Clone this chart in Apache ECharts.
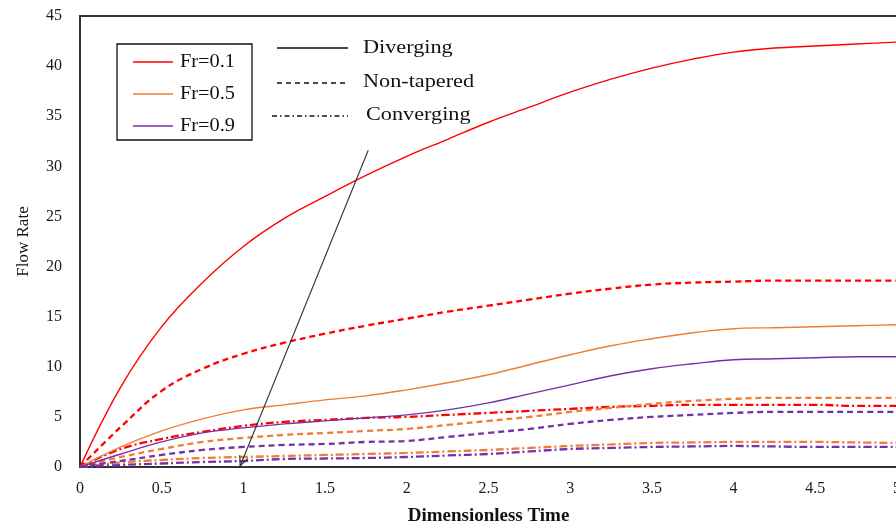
<!DOCTYPE html>
<html>
<head>
<meta charset="utf-8">
<script src="https://cdn.jsdelivr.net/npm/echarts@6/dist/echarts.min.js"></script>
<style>
html,body{margin:0;padding:0;background:#fff;}
#chart{width:896px;height:529px;}
</style>
</head>
<body>
<div id="chart"></div>
<script>
// Dimensionless time sample points
const times = [0, 0.25, 0.5, 0.75, 1, 1.25, 1.5, 1.75, 2, 2.25, 2.5, 2.75, 3, 3.25, 3.5, 3.75, 4, 4.25, 4.5, 4.75, 5];

// Fr = 0.1
const divFr01 = [0, 8.0, 14.0, 18.4, 22.0, 24.8, 27.0, 29.1, 31.0, 32.7, 34.4, 35.9, 37.4, 38.7, 39.8, 40.7, 41.4, 41.8, 42.0, 42.2, 42.4];
const nonFr01 = [0, 4.0, 7.6, 9.8, 11.3, 12.4, 13.3, 14.1, 14.8, 15.5, 16.1, 16.7, 17.3, 17.8, 18.2, 18.4, 18.5, 18.6, 18.6, 18.6, 18.6];
const conFr01 = [0, 1.8, 2.8, 3.5, 4.1, 4.5, 4.7, 4.9, 5.0, 5.2, 5.4, 5.6, 5.8, 6.0, 6.1, 6.2, 6.2, 6.2, 6.2, 6.1, 6.1];
// Fr = 0.5
const divFr05 = [0, 2.0, 3.6, 4.8, 5.7, 6.2, 6.7, 7.1, 7.7, 8.4, 9.2, 10.2, 11.2, 12.1, 12.8, 13.4, 13.8, 13.9, 14.0, 14.1, 14.2];
const nonFr05 = [0, 1.0, 1.8, 2.5, 2.9, 3.2, 3.4, 3.6, 3.8, 4.2, 4.6, 5.0, 5.5, 5.9, 6.3, 6.6, 6.8, 6.9, 6.9, 6.9, 6.9];
const conFr05 = [0, 0.45, 0.7, 0.9, 1.0, 1.1, 1.2, 1.3, 1.4, 1.55, 1.7, 1.9, 2.1, 2.25, 2.4, 2.45, 2.5, 2.5, 2.5, 2.45, 2.4];
// Fr = 0.9
const divFr09 = [0, 1.3, 2.5, 3.4, 3.9, 4.3, 4.6, 4.9, 5.2, 5.7, 6.4, 7.3, 8.2, 9.1, 9.8, 10.3, 10.7, 10.8, 10.9, 11.0, 11.0];
const nonFr09 = [0, 0.6, 1.2, 1.7, 2.0, 2.2, 2.3, 2.5, 2.6, 3.0, 3.4, 3.8, 4.3, 4.7, 5.0, 5.2, 5.4, 5.5, 5.5, 5.5, 5.5];
const conFr09 = [0, 0.2, 0.35, 0.5, 0.6, 0.8, 0.85, 0.9, 1.0, 1.15, 1.3, 1.55, 1.8, 1.9, 2.0, 2.05, 2.1, 2.05, 2.0, 2.0, 2.0];

const frLabels = ['Fr=0.1', 'Fr=0.5', 'Fr=0.9'];
const shapeLabels = ['Diverging', 'Non-tapered', 'Converging'];
const xTicks = [0, 0.5, 1, 1.5, 2, 2.5, 3, 3.5, 4, 4.5, 5];
const yTicks = [0, 5, 10, 15, 20, 25, 30, 35, 40, 45];

const colors = ['#FF0000', '#EE7D35', '#7232A6'];
const dashed = [6, 4];
const dashDot = [8, 3, 2, 3];

const FONT = '"Liberation Serif", "Times New Roman", serif';

function pairs(arr) { return times.map((t, i) => [t, arr[i]]); }

function mk(name, arr, color, type, width) {
  return {
    name: name, type: 'line', data: pairs(arr), smooth: 0.4,
    showSymbol: false, symbol: 'none',
    lineStyle: { color: color, width: width, type: type },
    z: 3
  };
}

const series = [
  mk('Fr=0.1 Diverging', divFr01, colors[0], 'solid', 1.4),
  mk('Fr=0.1 Non-tapered', nonFr01, colors[0], dashed, 2.3),
  mk('Fr=0.1 Converging', conFr01, colors[0], dashDot, 2.3),
  mk('Fr=0.5 Diverging', divFr05, colors[1], 'solid', 1.4),
  mk('Fr=0.5 Non-tapered', nonFr05, colors[1], dashed, 2.3),
  mk('Fr=0.5 Converging', conFr05, colors[1], dashDot, 2.3),
  mk('Fr=0.9 Diverging', divFr09, colors[2], 'solid', 1.4),
  mk('Fr=0.9 Non-tapered', nonFr09, colors[2], dashed, 2.3),
  mk('Fr=0.9 Converging', conFr09, colors[2], dashDot, 2.3)
];

const chart = echarts.init(document.getElementById('chart'), null, { renderer: 'canvas' });

const option = {
  backgroundColor: '#fff',
  animation: false,
  grid: { left: 80, right: -1, top: 16, bottom: 62, show: true, borderColor: '#333', borderWidth: 2, backgroundColor: 'transparent', containLabel: false, outerBoundsMode: 'none' },
  xAxis: {
    type: 'value', min: xTicks[0], max: xTicks[xTicks.length - 1], interval: 0.5,
    name: 'Dimensionless Time', nameLocation: 'middle', nameGap: 40,
    nameTextStyle: { fontFamily: FONT, fontSize: 19, fontWeight: 'bold', color: '#111' },
    axisLine: { show: true, lineStyle: { color: '#333', width: 2 } },
    axisTick: { show: false },
    splitLine: { show: false },
    axisLabel: { fontFamily: FONT, fontSize: 16, color: '#1a1a1a', margin: 14, hideOverlap: false }
  },
  yAxis: {
    type: 'value', min: yTicks[0], max: yTicks[yTicks.length - 1], interval: 5,
    name: 'Flow Rate', nameLocation: 'middle', nameGap: 48, nameRotate: 90,
    nameTextStyle: { fontFamily: FONT, fontSize: 17, color: '#111' },
    axisLine: { show: true, lineStyle: { color: '#333', width: 2 } },
    axisTick: { show: false },
    splitLine: { show: false },
    axisLabel: { fontFamily: FONT, fontSize: 16, color: '#1a1a1a', margin: 18 }
  },
  series: series
};
chart.setOption(option);

// Annotation arrow (in data coordinates, converted via the chart's scales)
const arrowTail = [1.764, 31.6];
const arrowHead = [0.98, 0.1];
const pT = chart.convertToPixel({ gridIndex: 0 }, arrowTail);
const pH = chart.convertToPixel({ gridIndex: 0 }, arrowHead);
const dx = pT[0] - pH[0], dy = pT[1] - pH[1];
const len = Math.sqrt(dx * dx + dy * dy);
const ux = dx / len, uy = dy / len;
const wing = 11, ang = 0.42;
function rot(x, y, a) { return [x * Math.cos(a) - y * Math.sin(a), x * Math.sin(a) + y * Math.cos(a)]; }
const w1 = rot(ux, uy, ang), w2 = rot(ux, uy, -ang);

const legendText = (txt, x, y, size, sx) => ({
  type: 'text', x: x, y: y, scaleX: sx, z: 20,
  style: { text: txt, x: 0, y: 0, fill: '#111', font: size + 'px ' + FONT, textVerticalAlign: 'middle', verticalAlign: 'middle' }
});
const legendLine = (x1, x2, y, color, dash, w) => ({
  type: 'line', z: 20, shape: { x1: x1, y1: y, x2: x2, y2: y },
  style: { stroke: color, lineWidth: w, lineDash: dash }
});

chart.setOption({
  graphic: [
    { type: 'line', z: 10, shape: { x1: pT[0], y1: pT[1], x2: pH[0], y2: pH[1] }, style: { stroke: '#333', lineWidth: 1.1 } },
    { type: 'polyline', z: 10, shape: { points: [[pH[0] + w1[0] * wing, pH[1] + w1[1] * wing], [pH[0], pH[1]], [pH[0] + w2[0] * wing, pH[1] + w2[1] * wing]] }, style: { stroke: '#333', lineWidth: 1.1, fill: null } },
    { type: 'rect', z: 19, shape: { x: 117, y: 44, width: 135, height: 96 }, style: { fill: '#fff', stroke: '#111', lineWidth: 1.3 } },
    legendLine(133, 173, 62, colors[0], null, 1.4),
    legendLine(133, 173, 94, colors[1], null, 1.4),
    legendLine(133, 173, 126, colors[2], null, 1.4),
    legendText(frLabels[0], 180, 62, 18, 1.13),
    legendText(frLabels[1], 180, 94, 18, 1.13),
    legendText(frLabels[2], 180, 126, 18, 1.13),
    legendLine(277, 348, 48, '#111', null, 1.3),
    legendLine(277, 348, 83, '#111', [5, 4], 1.3),
    legendLine(272, 348, 116, '#111', [5, 3, 1.5, 3], 1.3),
    legendText(shapeLabels[0], 363, 48, 19, 1.17),
    legendText(shapeLabels[1], 363, 82, 19, 1.17),
    legendText(shapeLabels[2], 366, 115, 19, 1.17)
  ]
});
</script>
</body>
</html>
